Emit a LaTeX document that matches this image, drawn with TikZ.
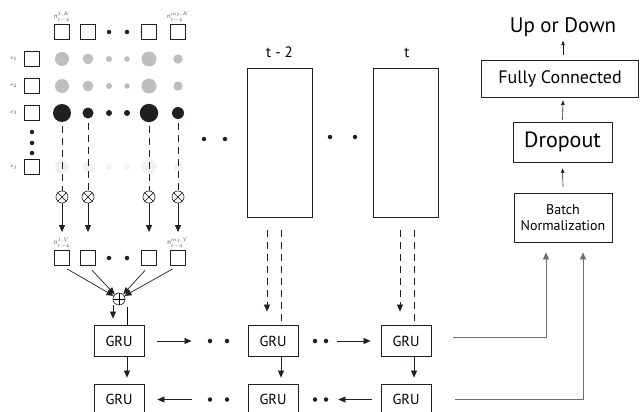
\documentclass[tikz,border=0pt]{standalone}
\usepackage{fontspec}
\setmainfont{PT Sans}
\usetikzlibrary{arrows.meta,positioning}
\definecolor{ink}{HTML}{231F20}
\definecolor{mid}{HTML}{BCBEC0}
\definecolor{faint}{HTML}{F1F2F2}
\definecolor{wire}{HTML}{6D6E71}
\tikzset{
  cell/.style={draw=ink, line width=0.9pt, minimum size=15pt, inner sep=0pt},
  tag/.style={font=\fontsize{6.5}{6.5}\selectfont, inner sep=0.5pt, text=ink!80},
  gru/.style={draw=ink, line width=0.8pt, minimum width=50pt, minimum height=31pt, inner sep=0pt, font=\fontsize{14.5}{14.5}\selectfont},
  frame/.style={draw=ink, line width=0.8pt, minimum width=65pt, minimum height=149pt, inner sep=0pt},
  layer/.style={draw=ink, line width=0.8pt, inner sep=0pt, align=center},
  op/.style={circle, draw=ink, line width=0.6pt, minimum size=12pt, inner sep=0pt},
  dot/.style={circle, fill=ink, inner sep=0pt, minimum size=4.5pt},
  flow/.style={-{Triangle[length=7pt,width=6pt]}, line width=0.7pt, draw=ink},
  small/.style={-{Triangle[length=4.5pt,width=3.5pt]}, line width=0.6pt, draw=ink},
  tick/.style={line width=0.7pt, dash pattern=on 7pt off 5pt, draw=ink},
  feed/.style={-{Triangle[length=7pt,width=6pt]}, line width=0.8pt, draw=wire},
}

\begin{document}
\begin{tikzpicture}[x=1pt,y=-1pt]
  \useasboundingbox (0,0) rectangle (640,412);
  \clip (0,0) rectangle (640,412);
  % sum of the weighted values
  \node[op] (sum) at (119,299) {};
  \draw[line width=0.6pt] (sum.north) -- (sum.south) (sum.east) -- (sum.west);
  % attention grid, one column per key
  \foreach \i/\x/\r/\R in {1/62/7/9, 2/88/5.3/5.5, 3/149/7.5/9.2, 4/178/4.7/6}{
    \node[cell] (k\i) at (\x,32) {};
    \fill[mid] (\x,59) circle (\r pt) (\x,86) circle (\r pt);
    \fill[faint] (\x,167) circle (\r pt);
    \node[circle, fill=ink, inner sep=0pt, minimum size={2*\R pt}] (b\i) at (\x,113) {};
    \node[op] (m\i) at (\x,197) {};
    \draw[line width=0.6pt] (m\i.45) -- (m\i.225) (m\i.135) -- (m\i.315);
    \node[cell] (v\i) at (\x,258) {};
    \draw[tick] ([yshift=-4pt]b\i.south) -- (m\i.north);
    \draw[flow] (m\i.south) -- ([yshift=18pt]v\i.north);
    \draw[flow, shorten <=6pt] (v\i.south) -- (sum);
  }
  % the columns left out
  \foreach \x/\r in {109/3, 127/2.8}{
    \node[dot] (kd\x) at (\x,32) {};
    \fill[mid] (\x,59) circle (\r pt) (\x,86) circle (\r pt);
    \fill[ink] (\x,113) circle (3pt);
    \fill[faint] (\x,167) circle (\r pt);
    \node[dot] (vd\x) at (\x,258) {};
  }
  % states
  \foreach \j/\y/\s in {1/59/s_1, 2/86/s_2, 3/113/s_3, 4/167/s_j}{
    \node[cell] (s\j) at (32,\y) {};
    \node[tag, left=6pt of s\j] (sl\j) {$\s$};
  }
  \foreach \y [count=\n] in {132,143,153} \node[dot] (vs\n) at (32,\y) {};
  \node[tag, above=1pt of k1] (nk1) {n$^{1,K}_{t-4}$};
  \node[tag, above=1pt of k4] (nk4) {n$^{m_t,K}_{t-4}$};
  \node[tag, above=1pt of v1] (nv1) {n$^{1,V}_{t-4}$};
  \node[tag, above=1pt of v4] (nv4) {n$^{m_t,V}_{t-4}$};
  % later steps
  \node[frame] (x2) at (279.5,142.5) {};
  \node[frame] (x3) at (405.5,142.5) {};
  \node[font=\fontsize{15}{15}\selectfont, anchor=base] (lx2) at (279.5,58) {t - 2};
  \node[font=\fontsize{15}{15}\selectfont, anchor=base] (lx3) at (407,58) {t};
  \node[dot] (xd1) at (204,139) {};
  \node[dot] (xd2) at (225,139) {};
  \node[dot] (xd3) at (330,137) {};
  \node[dot] (xd4) at (355,137) {};
  % gru, forward and backward
  \node[gru] (gf1) at (119,341) {GRU};
  \node[gru] (gf2) at (273,341) {GRU};
  \node[gru] (gf3) at (406,341) {GRU};
  \node[gru] (gb1) at (119,399.5) {GRU};
  \node[gru] (gb2) at (273,399.5) {GRU};
  \node[gru] (gb3) at (406,399.5) {GRU};
  \node[dot] (fp1) at (210,341) {};
  \node[dot] (fp2) at (227,341) {};
  \node[dot] (fp3) at (315,341) {};
  \node[dot] (fp4) at (326,341) {};
  \node[dot] (bp1) at (210,399.5) {};
  \node[dot] (bp2) at (227,399.5) {};
  \node[dot] (bp3) at (315,399.5) {};
  \node[dot] (bp4) at (326,399.5) {};
  \draw[flow, shorten <=13pt, shorten >=16pt] (gf1) -- (fp1);
  \draw[flow, shorten <=9pt, shorten >=10pt] (fp4) -- (gf3);
  \draw[flow, shorten <=16pt, shorten >=13pt] (bp1) -- (gb1);
  \draw[flow, shorten <=9pt, shorten >=10pt] (gb3) -- (bp4);
  \foreach \g in {1,2,3}
    \draw[flow] ([xshift=8pt]gf\g.south) -- ([xshift=8pt,yshift=6pt]gb\g.north);
  \draw[flow] ([xshift=-6pt]sum.south) -- ([xshift=-6pt,yshift=6.5pt]gf1.north);
  \draw[line width=0.7pt] ([xshift=8pt,yshift=-2pt]sum.south) -- ([xshift=8pt]gf1.north);
  \draw[tick, -{Triangle[length=7pt,width=6pt]}] ([xshift=-12.5pt,yshift=-13pt]x2.south) -- ([xshift=-6pt,yshift=13.5pt]gf2.north);
  \draw[tick] ([xshift=1.5pt,yshift=-13pt]x2.south) -- ([xshift=8pt]gf2.north);
  \draw[tick, -{Triangle[length=7pt,width=6pt]}] ([xshift=-5.5pt,yshift=-13pt]x3.south) -- ([xshift=-6pt,yshift=13.5pt]gf3.north);
  \draw[tick] ([xshift=8.5pt,yshift=-13pt]x3.south) -- ([xshift=8pt]gf3.north);
  % classifier
  \node[layer, minimum width=98pt, minimum height=49pt, font=\fontsize{14}{15.5}\selectfont] (bn) at (563,217.5) {Batch\\Normalization};
  \node[layer, minimum width=99pt, minimum height=40pt, font=\fontsize{22}{22}\selectfont] (drop) at (562.5,142) {Dropout};
  \node[layer, minimum width=157pt, minimum height=37pt, font=\fontsize{18}{18}\selectfont] (fc) at (560,78.5) {Fully Connected};
  \node[font=\fontsize{21}{21}\selectfont, anchor=base] (out) at (563,33) {Up or Down};
  \draw[small] ([yshift=6pt]bn.north) -- ([yshift=-6pt]drop.south);
  \draw[small] ([yshift=2pt]drop.north) -- ([xshift=3pt,yshift=-3pt]fc.south);
  \draw[small] ([xshift=3pt,yshift=5pt]fc.north) -- (out.south);
  \draw[feed] ([xshift=22pt,yshift=4pt]gf3.east) -| ([xshift=-17pt,yshift=-10pt]bn.south);
  \draw[feed] ([xshift=24pt]gb3.east) -| ([xshift=20pt,yshift=-10pt]bn.south);
\end{tikzpicture}
\end{document}
